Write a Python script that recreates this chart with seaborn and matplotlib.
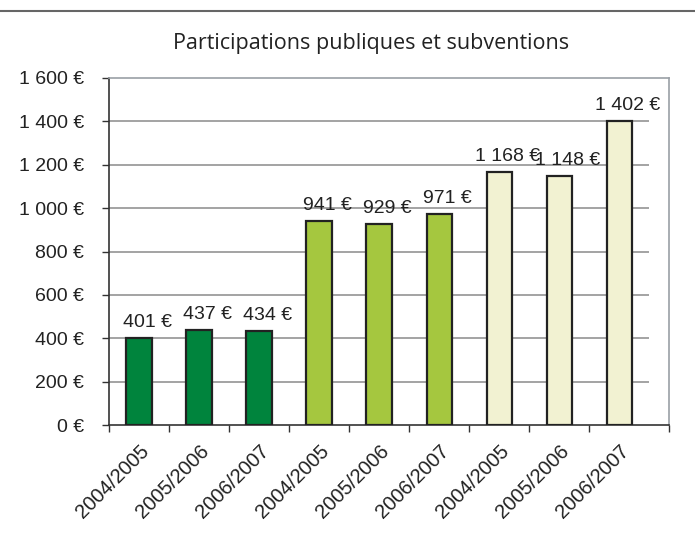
import pandas as pd
import matplotlib
matplotlib.use("Agg")
import matplotlib.pyplot as plt
from matplotlib.lines import Line2D
import seaborn as sns

# ----------------------
# Data
# ----------------------
periods = ["2004/2005", "2005/2006", "2006/2007"] * 3
groups = ["g1"] * 3 + ["g2"] * 3 + ["g3"] * 3
values = [401, 437, 434, 941, 929, 971, 1168, 1148, 1402]
y_ticks = [0, 200, 400, 600, 800, 1000, 1200, 1400, 1600]
group_colors = {"g1": "#00843D", "g2": "#A5C73F", "g3": "#F2F2D2"}
title = "Participations publiques et subventions"


def euro(v):
    return f"{v:,}".replace(",", " ") + " €"


df = pd.DataFrame({"period": periods, "group": groups, "value": values})
df["slot"] = [f"{g}-{p}" for g, p in zip(groups, periods)]

sns.set_style("white")
plt.rcParams["font.family"] = ["Liberation Sans", "DejaVu Sans"]

fig = plt.figure(figsize=(6.95, 5.41), dpi=100)
ax = fig.add_axes([109 / 695, 1 - 425 / 541, 560 / 695, 347 / 541])

sns.barplot(data=df, x="slot", y="value", hue="group", palette=group_colors,
            saturation=1, dodge=False, legend=False, width=0.42,
            edgecolor="#222222", linewidth=1.6, ax=ax, zorder=3)

n = len(values)
ax.set_xlim(-0.5, n - 0.5 + 0.33)
ax.set_ylim(0, 1600)

# grid lines stop at the last category, top spine runs to the frame
ax.hlines(y_ticks[1:-1], -0.5, n - 0.5, color="#8a8a8a", lw=1.1, zorder=1)

for i, v in enumerate(values):
    ax.annotate(euro(v), (i, v), xytext=(6, 5), textcoords="offset points",
                ha="center", va="bottom", fontsize=14, color="#222222")

# y axis
ax.set_yticks(y_ticks)
ax.set_yticklabels([euro(t) for t in y_ticks], fontsize=14, color="#222222")
ax.tick_params(axis="y", direction="out", length=5, width=1, color="#333333",
               left=True, pad=13)

# x axis: labels at bars, ticks between categories
ax.set_xticks(range(n))
ax.set_xticklabels(periods, rotation=45, ha="right", rotation_mode="anchor",
                   fontsize=14.5, color="#222222")
ax.tick_params(axis="x", which="major", length=0, pad=12)
ax.set_xticks([i - 0.5 for i in range(n)] + [n - 0.5 + 0.33], minor=True)
ax.tick_params(axis="x", which="minor", direction="out", length=5, width=1,
               color="#333333", bottom=True)
ax.set_xlabel("")
ax.set_ylabel("")

for side in ["left", "bottom"]:
    ax.spines[side].set_color("#333333")
    ax.spines[side].set_linewidth(1.2)
for side in ["top", "right"]:
    ax.spines[side].set_color("#9aa0a6")
    ax.spines[side].set_linewidth(1.2)

fig.text(371 / 695, 1 - 44 / 541, title, ha="center", va="center",
         fontsize=15.5, family=["Open Sans", "DejaVu Sans"], color="#222222")
fig.add_artist(Line2D([0, 1], [1 - 11 / 541] * 2, color="#666666", lw=1.5))

fig.savefig("out.png", dpi=100)
